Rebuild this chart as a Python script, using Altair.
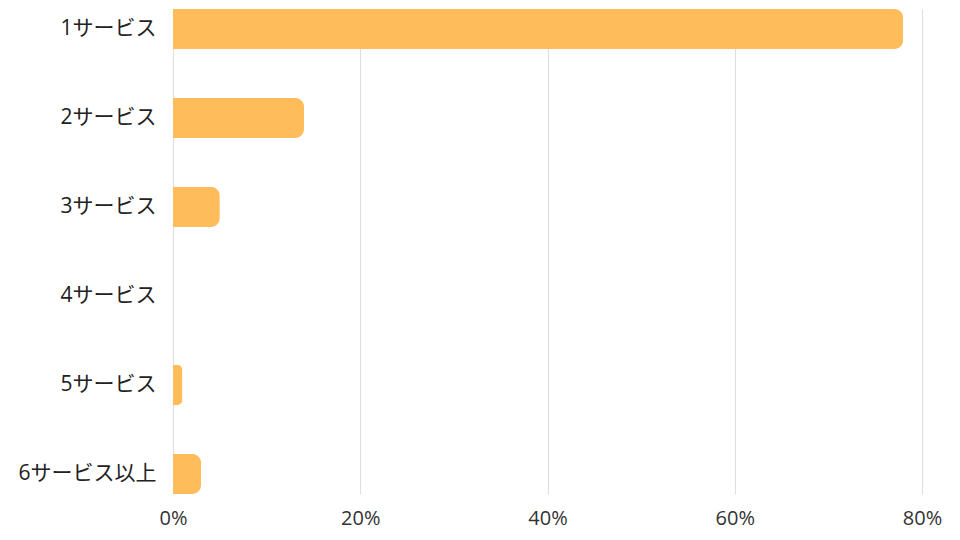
import altair as alt
import pandas as pd

categories = ["1サービス", "2サービス", "3サービス", "4サービス", "5サービス", "6サービス以上"]
values = [78.0, 14.0, 5.0, 0.0, 1.0, 3.0]

df = pd.DataFrame({"cat": categories, "val": values})

FONT = "Open Sans, Noto Sans CJK JP"

chart = (
    alt.Chart(df)
    .mark_bar(color="#FEBC5B", cornerRadiusEnd=9)
    .encode(
        y=alt.Y(
            "cat:N",
            sort=categories,
            title=None,
            scale=alt.Scale(paddingInner=0.55, paddingOuter=0),
            axis=alt.Axis(
                ticks=False,
                domain=False,
                labelFont=FONT,
                labelFontSize=21,
                labelColor="#222222",
                labelPadding=17,
            ),
        ),
        x=alt.X(
            "val:Q",
            title=None,
            scale=alt.Scale(domain=[0, 80], nice=False),
            axis=alt.Axis(
                values=[0, 20, 40, 60, 80],
                labelExpr="datum.value + '%'",
                ticks=False,
                domain=False,
                grid=True,
                gridColor="#dedede",
                labelFlush=False,
                labelFont=FONT,
                labelFontSize=20,
                labelColor="#333333",
                labelPadding=14,
            ),
        ),
    )
    .properties(
        width=749,
        height=485,
        padding={"left": 173, "top": 9, "right": 38, "bottom": 46},
        autosize=alt.AutoSizeParams(type="none"),
        background="white",
    )
    .configure_view(stroke=None)
)

chart.save("out.html", embed_options={"renderer": "svg", "actions": False})
